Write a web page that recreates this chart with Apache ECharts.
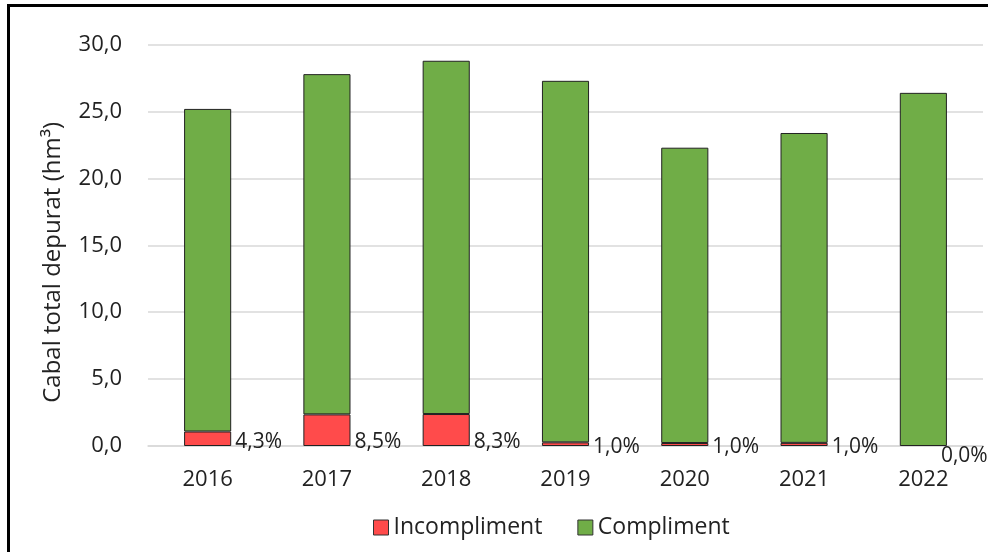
<!DOCTYPE html>
<html>
<head>
<meta charset="utf-8">
<script src="https://cdn.jsdelivr.net/npm/echarts@6/dist/echarts.min.js"></script>
<style>
  html, body { margin: 0; padding: 0; background: #fff; }
  #chart { width: 988px; height: 552px; }
</style>
</head>
<body>
<div id="chart"></div>
<script>
// Treated flow per year (hm³) and the share that failed compliance (%)
const years = ['2016', '2017', '2018', '2019', '2020', '2021', '2022'];
const totalFlow = [25.2, 27.8, 28.8, 27.3, 22.3, 23.4, 26.4];
const failPct = [4.3, 8.5, 8.3, 1.0, 1.0, 1.0, 0.0];
const yTicks = { min: 0, max: 30, interval: 5 };

const failFlow = totalFlow.map((t, i) => t * failPct[i] / 100);
const okFlow = totalFlow.map((t, i) => t - failFlow[i]);

const FONT = '"Open Sans", "Noto Sans", sans-serif';
const TXT = '#222';
const RED = '#FF4B4B';
const GREEN = '#70AD47';
const fmt1 = v => v.toFixed(1).replace('.', ',');

// percentage label sits at the foot of each bar, to its right;
// an empty segment pushes its label down and back inside the plot
function pctLabelOffset(v) {
  if (v === 0) return [-6, 10];
  return [4, v < 1 ? 1 : -4];
}

const chart = echarts.init(document.getElementById('chart'), null, { renderer: 'canvas' });
chart.setOption({
  backgroundColor: '#fff',
  animation: false,
  textStyle: { fontFamily: FONT },
  graphic: [
    { type: 'rect', left: 7, top: 4, shape: { width: 3, height: 548 }, style: { fill: '#000' } },
    { type: 'rect', left: 7, top: 4, shape: { width: 981, height: 3 }, style: { fill: '#000' } }
  ],
  grid: { left: 148, right: 5, top: 44.7, bottom: 106, containLabel: false },
  legend: {
    left: 368, top: 511,
    itemWidth: 15, itemHeight: 15, itemGap: 35,
    icon: 'rect',
    textStyle: { fontFamily: FONT, fontSize: 23, color: TXT },
    data: [
      { name: 'Incompliment', itemStyle: { color: RED, borderColor: '#333', borderWidth: 1 } },
      { name: 'Compliment', itemStyle: { color: GREEN, borderColor: '#333', borderWidth: 1 } }
    ]
  },
  xAxis: {
    type: 'category',
    data: years,
    axisLine: { show: true, lineStyle: { color: '#d9d9d9', width: 1.5 } },
    axisTick: { show: false },
    axisLabel: { fontFamily: FONT, fontSize: 22, color: TXT, margin: 23 }
  },
  yAxis: {
    type: 'value',
    min: yTicks.min, max: yTicks.max, interval: yTicks.interval,
    name: 'Cabal total depurat (hm³)',
    nameLocation: 'middle',
    nameGap: 83,
    nameRotate: 90,
    nameTextStyle: { fontFamily: FONT, fontSize: 24, color: TXT, padding: [0, 34, 0, 0] },
    axisLine: { show: false },
    axisTick: { show: false },
    splitLine: { lineStyle: { color: '#d9d9d9', width: 1.5 } },
    axisLabel: { fontFamily: FONT, fontSize: 22, color: TXT, margin: 26, formatter: fmt1 }
  },
  series: [
    {
      name: 'Incompliment',
      type: 'bar',
      stack: 'flow',
      barWidth: '39.5%',
      data: failFlow.map(v => ({
        value: v,
        itemStyle: v === 0 ? { borderWidth: 0 } : undefined,
        label: { offset: pctLabelOffset(v) }
      })),
      itemStyle: { color: RED, borderColor: '#222', borderWidth: 1 },
      label: {
        show: true,
        position: ['100%', '100%'],
        verticalAlign: 'middle',
        align: 'left',
        fontFamily: FONT,
        fontSize: 21,
        color: TXT,
        formatter: p => fmt1(failPct[p.dataIndex]) + '%'
      }
    },
    {
      name: 'Compliment',
      type: 'bar',
      stack: 'flow',
      barWidth: '39.5%',
      data: okFlow,
      itemStyle: { color: GREEN, borderColor: '#222', borderWidth: 1 }
    }
  ]
});
</script>
</body>
</html>
